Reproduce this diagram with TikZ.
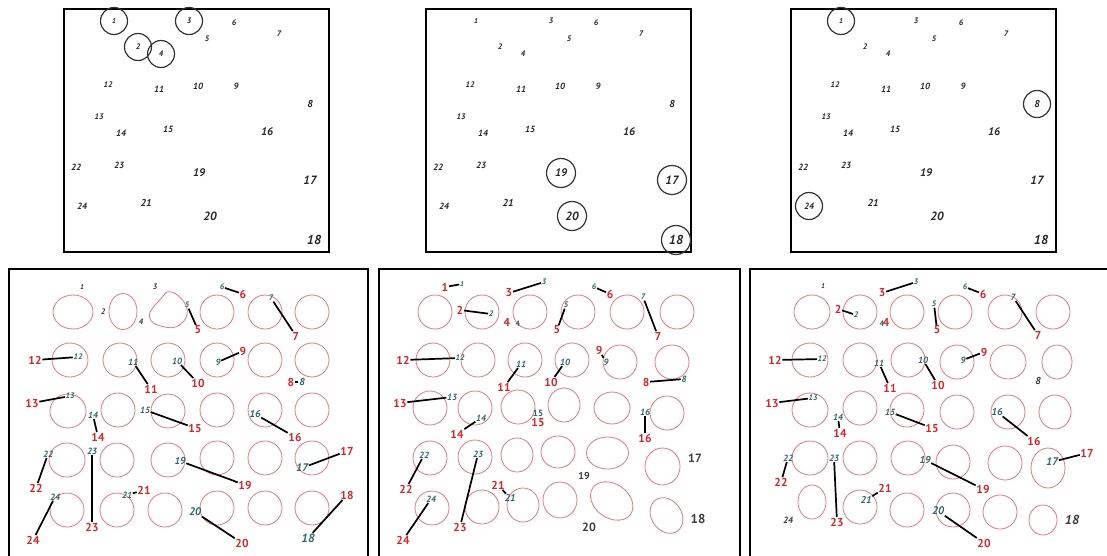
\documentclass[tikz,border=0pt]{standalone}
\usepackage{fontspec}
\setmainfont{PT Sans}
\definecolor{topc}{RGB}{40,40,40}
\definecolor{tealc}{RGB}{44,104,104}
\definecolor{redc}{RGB}{214,38,40}
\definecolor{ringc}{RGB}{232,118,124}
\definecolor{grayc}{RGB}{60,60,60}
\tikzset{
  frame/.style={line width=1.8pt},
  toplab/.style={text=topc, inner sep=0.5pt},
  ring/.style={line width=1.2pt, draw=black!80},
  cell/.style={draw=ringc, line width=0.8pt},
  tlab/.style={text=tealc, inner sep=0.6pt},
  rlab/.style={text=redc, inner sep=0.6pt, font=\bfseries\fontsize{11.5}{11.5}\selectfont},
  glab/.style={text=grayc, inner sep=0.5pt},
  link/.style={line width=1.7pt, black},
}
\begin{document}
\begin{tikzpicture}[x=1pt,y=-1pt]
\clip (0,0) rectangle (1107,555);
\fill[white] (0,0) rectangle (1107,555);

% ---------- top panels ----------
\draw[frame] (64,9) rectangle (329,252);
\draw[frame] (426,9) rectangle (691,252);
\draw[frame] (791,9) rectangle (1056,252);
\foreach \p/\dx in {A/0,B/362,C/727}{
  \foreach \n/\x/\y/\s in {1/114/21/7, 2/138/47/8, 3/189/21/8, 4/161/54/8, 5/207/39/8,
      6/234/23/8, 7/279/34/8, 8/310/104/10, 9/236/86/9, 10/198/86/9, 11/159/89/9,
      12/108/85/8, 13/99/117/8, 14/121/133/9, 15/168/129/9, 16/267/132/11,
      17/310/180/12, 18/314/240/13, 19/199/173/11, 20/210/216/12, 21/146/203/10,
      22/76/167/9, 23/119/165/9, 24/82/206/9}{
    \node[toplab, font=\bfseries\itshape\fontsize{\s}{\s}\selectfont] (\p\n) at (\x+\dx,\y) {\n};
  }
}
\foreach \c in {A1,A2,A3,A4,C1,C8,C24}{\draw[ring] (\c.center) circle (13.5);}
\foreach \c in {B19,B17,B20,B18}{\draw[ring] (\c.center) circle (14.5);}

% ---------- bottom panels: frames ----------
\draw[frame] (9,600) -- (9,269) -- (368,269) -- (368,600);
\draw[frame] (379,600) -- (379,269) -- (740,269) -- (740,600);
\draw[frame] (750,600) -- (750,269) -- (1120,269);

% ---------- bottom panel 1: cells ----------
\foreach \x/\y/\a/\b in {73/312/20/17, 123/311.5/14/18, 217/312/17/17, 265/312/17/17, 312/312/17/17,
    70/360/18/17, 120/360/17/17, 168/360/17/17, 217/360/17/17, 265/360/17/17, 312/360/17/17,
    68/411/18/17, 118/410/17/17, 168/411/17/17, 217/410/17/17, 265/410/17/17, 312/410/17/17,
    67/460/18/17, 117/460/17/17, 168/460/17/17, 217/458/17/17, 265/458/17/17, 312/458/17/17,
    67/510/17/17, 117/510/17/17, 165/510/17/17, 217/508/17/17, 265/508/17/17, 312/508/17/17}{
  \draw[cell] (\x,\y) ellipse [x radius=\a, y radius=\b];
}
\draw[cell] plot[smooth cycle, tension=0.8] coordinates {(171.7,292) (186.7,308) (180,324.7) (161.7,326.3) (149.3,316.3) (160,299.7)};

% ---------- bottom panel 2: cells ----------
\foreach \x/\y/\a/\b in {435/312/17/17, 482/312/17/17, 530/312/17/17, 578/312/17/17, 627/312/17/17, 677/312/17/17,
    433/360/17/17, 478/360/17/17, 525/360/17/17, 572/360/17/17, 620/362/17/17, 672/362/17/17,
    430/408/17/17, 475/408/17/17, 518/407/17/17, 564/405/16/17, 612/408/18/16, 667/413/17/17,
    430/458/17/17, 475/457/17/17, 517/455/16/17, 558/452/17/16, 607.5/453/21/16, 662.5/466.5/17.5/18.5,
    432/508/17/17, 482/507/17/17, 523/505/16/17, 560/500/17/18}{
  \draw[cell] (\x,\y) ellipse [x radius=\a, y radius=\b];
}
\draw[cell] (611.7,501) ellipse [x radius=23, y radius=17, rotate=-35];
\draw[cell] (666.5,515.5) ellipse [x radius=19, y radius=15, rotate=-55];

% ---------- bottom panel 3: cells ----------
\foreach \x/\y/\a/\b in {812/312/18/17, 860/312/17/17, 907/312/17/17, 955/312/17/17, 1005/312/17/17, 1053/312/17/17,
    810/360/18/17, 860/360/17/17, 908/360/17/17, 957/362/17/17, 1008/362/18/17, 1057/362/15/17,
    810/410/18/17, 860/408/17/17, 907/410/17/17, 957/412/17/17, 1008/412/17/17, 1055/412/16/17,
    810/458/18/17, 860/458/17/17, 908/458/17/17, 953/462/17/17, 1005/463/17/17, 1048/468/17/20,
    812/502/14/17, 860/507/17/17, 907/510/17/17, 953/510/17/17, 1000/512/17/17, 1043/520/14/15}{
  \draw[cell] (\x,\y) ellipse [x radius=\a, y radius=\b];
}

% ---------- bottom panel 1: labels ----------
\foreach \n/\x/\y/\s in {1/82/287/7, 2/103/312/8, 3/155/287/8, 4/141/322/8}{
  \node[glab, font=\bfseries\itshape\fontsize{\s}{\s}\selectfont] (Pg\n) at (\x,\y) {\n};
}
\foreach \n/\tx/\ty/\s/\rx/\ry in {5/187/305/8/198/330, 6/222/287/8/243/294, 7/271/298/8/296/336,
    12/78/357/8/35/360, 11/133/362/9/151/389, 10/177/361/9/198/383, 9/218/362/9/243/351,
    8/302/382/10/291/382, 13/70/396/8/32/403, 14/93/415/9/98/437, 15/145/410/9/195/428,
    16/255/414/10/295/437, 22/48/454/9/36/488, 23/92/451/9/92/527, 19/180/461/10/245/485,
    17/302/468/11/347/451, 24/55/497/9/33/540, 21/127/495/9/144/490, 20/195/512/11/242/543,
    18/308/538/12/347/495}{
  \node[tlab, font=\bfseries\itshape\fontsize{\s}{\s}\selectfont] (Pt\n) at (\tx,\ty) {\n};
  \node[rlab] (Pr\n) at (\rx,\ry) {\n};
  \draw[link] (Pt\n) -- (Pr\n);
}

% ---------- bottom panel 2: labels ----------
\foreach \n/\x/\y/\s in {17/695/458/12, 19/584/476/10, 18/698/519/13, 20/589/527/12}{
  \node[glab, font=\bfseries\fontsize{\s}{\s}\selectfont] (Qg\n) at (\x,\y) {\n};
}
\foreach \n/\tx/\ty/\s/\rx/\ry in {1/462/284/7/445/287, 3/544/282/8/509/293, 2/491/314/8/460/310,
    5/566/305/8/557/330, 6/594/287/8/610/294, 7/643/297/8/658/336, 12/460/358/8/403/360,
    11/521/364/9/504/387, 10/565/362/9/551/382, 9/606/362/9/599/350, 8/684/379/9/646/382,
    13/452/397/9/400/403, 14/481/418/9/457/434, 16/645/412/9/645/438, 22/424/455/9/406/489,
    23/478/454/9/460/527, 21/510/498/10/498/485, 24/431/499/9/403/540}{
  \node[tlab, font=\bfseries\itshape\fontsize{\s}{\s}\selectfont] (Qt\n) at (\tx,\ty) {\n};
  \node[rlab] (Qr\n) at (\rx,\ry) {\n};
  \draw[link] (Qt\n) -- (Qr\n);
}
\node[tlab, font=\bfseries\fontsize{8}{8}\selectfont] (Qt4) at (518,324) {4};
\node[rlab] (Qr4) at (507,322) {4};
\node[tlab, font=\bfseries\fontsize{9}{9}\selectfont] (Qt15) at (538,413) {15};
\node[rlab] (Qr15) at (538,422) {15};

% ---------- bottom panel 3: labels ----------
\foreach \n/\x/\y/\s in {1/823/286/7, 24/788/520/9, 8/1038/381/10, 18/1072/520/13}{
  \node[glab, font=\bfseries\itshape\fontsize{\s}{\s}\selectfont] (Rg\n) at (\x,\y) {\n};
}
\foreach \n/\tx/\ty/\s/\rx/\ry in {3/916/282/8/882/293, 2/856/315/8/838/309, 5/934/304/8/937/330,
    6/965/287/8/983/294, 7/1013/297/9/1038/335, 12/822/359/8/775/360, 11/879/363/9/890/388,
    10/923/360/9/938/385, 9/963/360/9/984/352, 13/813/398/8/772/403, 14/838/417/9/840/433,
    15/890/412/9/932/428, 16/997/412/10/1034/441, 22/788/458/9/781/482, 23/834/458/9/837/522,
    21/866/500/10/885/488, 19/925/460/10/983/489, 17/1052/462/11/1087/453, 20/938/511/11/984/543}{
  \node[tlab, font=\bfseries\itshape\fontsize{\s}{\s}\selectfont] (Rt\n) at (\tx,\ty) {\n};
  \node[rlab] (Rr\n) at (\rx,\ry) {\n};
  \draw[link] (Rt\n) -- (Rr\n);
}
\node[tlab, font=\bfseries\fontsize{8}{8}\selectfont] (Rt4) at (882,324) {4};
\node[rlab] (Rr4) at (886,322) {4};
\end{tikzpicture}
\end{document}
